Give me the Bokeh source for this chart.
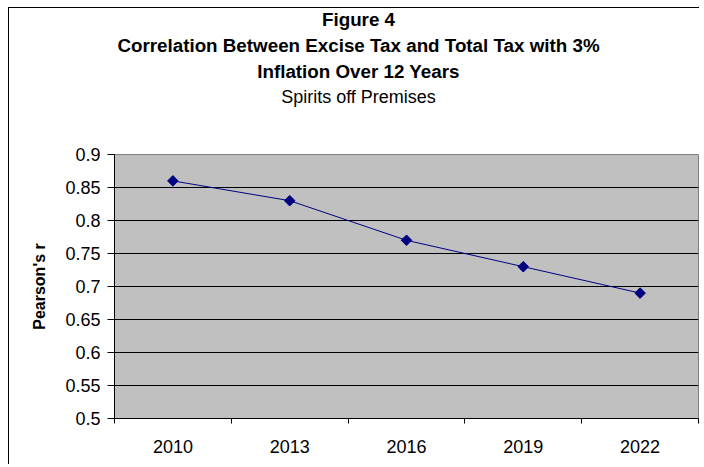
import math
from bokeh.plotting import figure
from bokeh.layouts import column
from bokeh.models import Range1d, FixedTicker, CustomJSTickFormatter, Label
from bokeh.embed import file_html
from bokeh.resources import INLINE

years = ["2010", "2013", "2016", "2019", "2022"]
pearson_r = [0.86, 0.83, 0.77, 0.73, 0.69]
y_ticks = [0.5, 0.55, 0.6, 0.65, 0.7, 0.75, 0.8, 0.85, 0.9]
title_lines = ["Figure 4",
               "Correlation Between Excise Tax and Total Tax with 3%",
               "Inflation Over 12 Years"]
subtitle = "Spirits off Premises"
y_label = "Pearson's r"

FONT = "Liberation Sans"
NAVY = "#000080"

n = len(years)
xs = [i + 0.5 for i in range(n)]

# ---- title strip ----
t = figure(width=690, height=134, output_backend="svg", toolbar_location=None,
           x_axis_location=None, y_axis_location=None,
           min_border=0, min_border_left=0, min_border_right=0,
           min_border_top=0, min_border_bottom=0)
t.grid.visible = False
t.outline_line_color = None
t.background_fill_color = "white"
t.border_fill_color = "white"

cx = 244  # px from the (aligned) plot-area left edge
title_dy = [123, 97, 71]  # px up from the strip's bottom edge
for txt, ty in zip(title_lines, title_dy):
    t.add_layout(Label(x=cx, y=ty, x_units="screen", y_units="screen", text=txt,
                       text_align="center", text_baseline="middle",
                       text_font=FONT, text_font_size="18.8px", text_font_style="bold",
                       text_color="black"))
t.add_layout(Label(x=cx, y=46, x_units="screen", y_units="screen", text=subtitle,
                   text_align="center", text_baseline="middle",
                   text_font=FONT, text_font_size="18px", text_color="black"))

# ---- chart ----
p = figure(width=690, height=322, output_backend="svg", toolbar_location=None,
           x_range=Range1d(0, n), y_range=Range1d(y_ticks[0], y_ticks[-1]),
           min_border_left=105, min_border_top=12, min_border_right=1, min_border_bottom=46)

p.background_fill_color = "#C0C0C0"
p.border_fill_color = "white"
p.outline_line_color = "#808080"
p.outline_line_width = 1

p.xgrid.grid_line_color = None
p.ygrid.ticker = FixedTicker(ticks=y_ticks[1:-1])
p.ygrid.grid_line_color = "black"
p.ygrid.grid_line_width = 1

xa = p.xaxis[0]
xa.ticker = FixedTicker(ticks=xs, minor_ticks=list(range(n + 1)))
xa.formatter = CustomJSTickFormatter(args=dict(labels=years),
                                     code="return labels[Math.floor(tick)];")
xa.major_tick_out = 0
xa.major_tick_in = 0
xa.minor_tick_out = 5
xa.minor_tick_in = 0
xa.minor_tick_line_color = "black"
xa.axis_line_color = "black"
xa.major_label_text_font = FONT
xa.major_label_text_font_size = "18px"
xa.major_label_text_color = "black"
xa.major_label_standoff = 16

ya = p.yaxis[0]
ya.ticker = FixedTicker(ticks=y_ticks)
ya.formatter = CustomJSTickFormatter(code="return String(parseFloat(tick.toFixed(2)));")
ya.major_tick_out = 7
ya.major_tick_in = 0
ya.minor_tick_out = 0
ya.minor_tick_in = 0
ya.axis_line_color = "black"
ya.major_tick_line_color = "black"
ya.major_label_text_font = FONT
ya.major_label_text_font_size = "18px"
ya.major_label_text_color = "black"
ya.major_label_standoff = 7
ya.axis_label = y_label
ya.axis_label_text_font = FONT
ya.axis_label_text_font_size = "16px"
ya.axis_label_text_font_style = "bold"
ya.axis_label_text_color = "black"
ya.axis_label_standoff = 14

p.line(xs, pearson_r, line_color=NAVY, line_width=1)
p.scatter(xs, pearson_r, marker="square", angle=math.pi / 4, size=7.5,
          fill_color=NAVY, line_color=NAVY)

layout = column(t, p, spacing=0, margin=(7, 0, 0, 8),
                styles={"border-left": "1px solid black", "border-top": "1px solid black"})

open("out.html", "w").write(file_html(layout, INLINE))
